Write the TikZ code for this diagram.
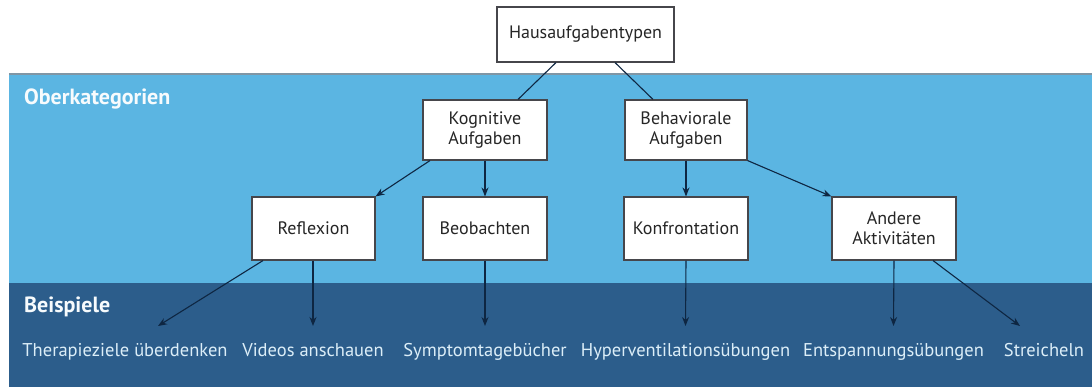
\documentclass[tikz,border=0pt]{standalone}
\usepackage{fontspec}
\setmainfont{PT Sans}
\usetikzlibrary{arrows.meta}
\definecolor{bandlight}{RGB}{91,181,226}
\definecolor{banddark}{RGB}{44,93,139}
\definecolor{bandedge}{RGB}{128,150,165}
\definecolor{linknavy}{RGB}{14,38,66}
\definecolor{boxedge}{RGB}{70,70,75}
\definecolor{extext}{RGB}{220,238,248}
\tikzset{
  typebox/.style={draw=boxedge, line width=1.1pt, fill=white, align=center,
    font=\fontsize{18}{20}\selectfont, text=black!85, inner sep=0pt},
  bandlabel/.style={anchor=west, font=\fontsize{22}{24}\selectfont\bfseries, text=white!95!bandlight, inner sep=0pt},
  example/.style={anchor=north, font=\fontsize{18.5}{20}\selectfont, text=extext,
    inner xsep=0pt, inner ysep=0pt, text height=14pt, text depth=4pt, yshift=-16pt},
  link/.style={draw=linknavy, line width=1.1pt},
  arrowlink/.style={link, -{Stealth[length=9pt,width=7pt]}}
}
\begin{document}
\begin{tikzpicture}[x=1pt,y=-1pt]
  \useasboundingbox (0,0) rectangle (1092,387);
  % background bands
  \fill[white] (0,0) rectangle (1092,387);
  \fill[bandlight] (9,74) rectangle (1092,283);
  \fill[banddark] (9,283) rectangle (1092,387);
  \draw[bandedge, line width=1.2pt] (9,74) -- (1092,74);
  \node[bandlabel] (lobr) at (24,99) {Oberkategorien};
  \node[bandlabel] (lbsp) at (24,307) {Beispiele};

  % boxes
  \node[typebox, minimum width=177pt, minimum height=55pt] (haus) at (585.5,34.5) {Hausaufgabentypen};
  \node[typebox, minimum width=124pt, minimum height=60pt] (kog) at (485,130) {Kognitive\\Aufgaben};
  \node[typebox, minimum width=122pt, minimum height=60pt] (beh) at (686,130) {Behaviorale\\Aufgaben};
  \node[typebox, minimum width=123pt, minimum height=63pt] (refl) at (313.5,228.5) {Reflexion};
  \node[typebox, minimum width=124pt, minimum height=63pt] (beob) at (485,228.5) {Beobachten};
  \node[typebox, minimum width=124pt, minimum height=63pt] (konf) at (686,228.5) {Konfrontation};
  \node[typebox, minimum width=124pt, minimum height=63pt] (akt) at (894,228.5) {Andere\\Aktivitäten};

  % examples
  \node[example] (e1) at (125,326) {Therapieziele überdenken};
  \node[example] (e2) at (313,326) {Videos anschauen};
  \node[example] (e3) at (485,326) {Symptomtagebücher};
  \node[example] (e4) at (685.5,326) {Hyperventilationsübungen};
  \node[example] (e5) at (893.5,326) {Entspannungsübungen};
  \node[example] (e6) at (1044,326) {Streicheln};
  \coordinate (t1) at (158,326);
  \coordinate (t6) at (1020,326);

  % connectors
  \draw[link] (haus.south -| 556,0) -- (kog.north -| 518,0);
  \draw[link] (haus.south -| 615,0) -- (beh.north -| 653,0);
  \draw[arrowlink] (kog.south -| 430,0) -- (refl.north east);
  \draw[arrowlink] (kog.south) -- (beob.north);
  \draw[arrowlink] (beh.south) -- (konf.north);
  \draw[arrowlink] (beh.south east) -- (akt.north west);
  \draw[arrowlink] (refl.south -| 263,0) -- (t1);
  \draw[arrowlink] (refl.south -| 313,0) -- (e2.north |- t1);
  \draw[arrowlink] (beob.south) -- (e3.north |- t1);
  \draw[arrowlink] (konf.south) -- (e4.north |- t1);
  \draw[arrowlink] (akt.south) -- (e5.north |- t1);
  \draw[arrowlink] (akt.south -| 933,0) -- (t6);
\end{tikzpicture}
\end{document}
